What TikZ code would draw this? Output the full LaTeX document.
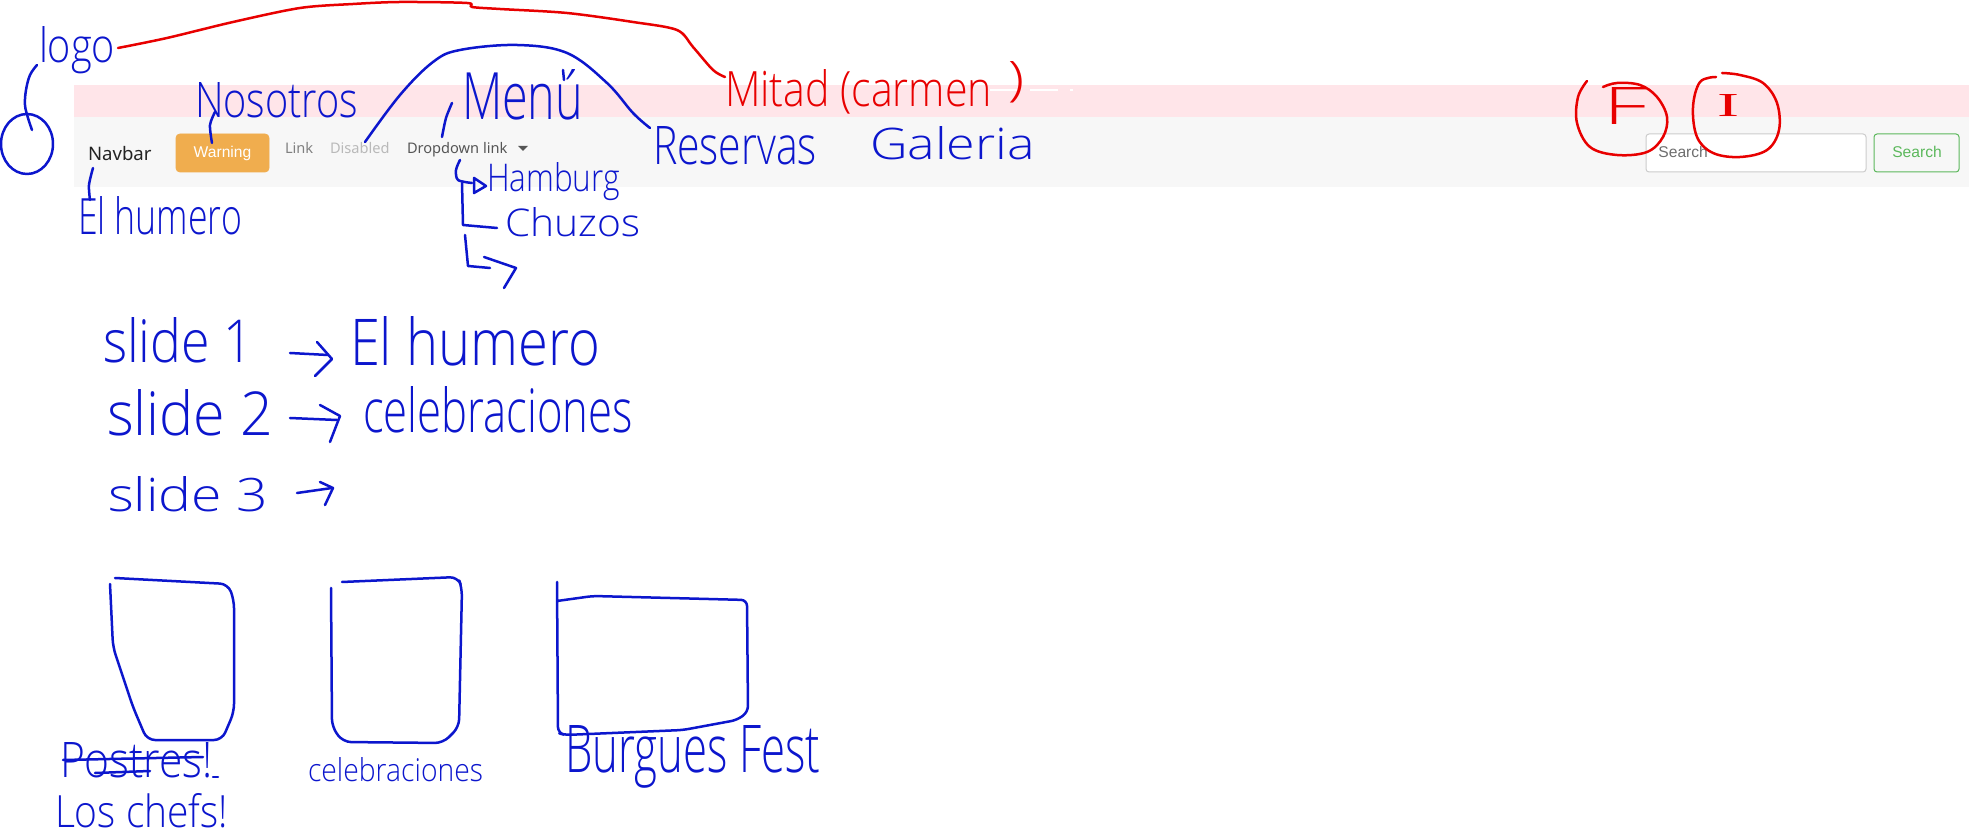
\documentclass[tikz,border=0pt]{standalone}
\usepackage{fontspec}
\usepackage{graphicx}
\IfFontExistsTF{Open Sans Light}{\newfontfamily\handfont{Open Sans Light}}{\newfontfamily\handfont{Open Sans}}
\newfontfamily\uifont{Noto Sans}
\newfontfamily\arialfont{Liberation Sans}
\newfontfamily\seriffont{Liberation Serif}
\definecolor{ink}{RGB}{12,22,205}
\definecolor{redink}{RGB}{232,0,0}
\definecolor{pinkband}{RGB}{255,229,233}
\definecolor{grayband}{RGB}{247,247,247}
\definecolor{warnfill}{RGB}{240,173,78}
\definecolor{okgreen}{RGB}{92,184,92}
\definecolor{inputborder}{RGB}{204,204,204}
\definecolor{brandgray}{RGB}{35,35,35}
\definecolor{linkgray}{RGB}{128,128,128}
\definecolor{disgray}{RGB}{185,185,185}
\definecolor{actgray}{RGB}{85,85,85}
\definecolor{phgray}{RGB}{110,110,110}
\newlength\pxu \setlength\pxu{0.5pt}
\newcommand\hw[3]{\resizebox{#1\pxu}{#2\pxu}{\handfont #3}}
\begin{document}
\begin{tikzpicture}[x=0.5pt,y=-0.5pt,
  pen/.style={draw=ink, line width=1.25pt, line cap=round, line join=round},
  redpen/.style={draw=redink, line width=1.25pt, line cap=round, line join=round},
  hand/.style={inner sep=0pt, outer sep=0pt, text=ink, anchor=base west},
  redhand/.style={hand, text=redink},
  ui/.style={inner sep=0pt, outer sep=0pt, anchor=base west, font=\uifont\fontsize{7.3pt}{9pt}\selectfont},
]
\useasboundingbox (0,0) rectangle (1969,838);
\fill[white] (0,0) rectangle (1969,838);
% navbar bands
\fill[pinkband] (74,85) rectangle (1969,117);
\fill[grayband] (74,117) rectangle (1969,187);
\draw[white, line width=0.9pt, dash pattern=on 14pt off 6pt] (990,90) -- (1073,90);

% navbar contents
\node[ui, font=\uifont\fontsize{9.3pt}{11pt}\selectfont, text=brandgray] (navbar) at (88,161) {Navbar};
\node[draw=warnfill, fill=warnfill, rounded corners=2pt, minimum width=46.5pt, minimum height=19pt, inner sep=0pt] (warning) at (222.5,153) {};
\node[inner sep=0pt, anchor=base, text=white, font=\arialfont\fontsize{7.8pt}{9pt}\selectfont] (warntext) at (222.5,158) {Warning};
\node[ui, text=linkgray] (link) at (285,154) {Link};
\node[ui, text=disgray] (disabled) at (330,154) {Disabled};
\node[ui, text=actgray] (dropdown) at (407,154) {Dropdown link};
\fill[actgray] (518,146) -- (528,146) -- (523,151) -- cycle;
\node[draw=inputborder, fill=white, rounded corners=1.5pt, line width=0.5pt, minimum width=110pt, minimum height=19pt, inner sep=0pt] (searchbox) at (1756,153) {};
\node[inner sep=0pt, anchor=base west, text=phgray, font=\arialfont\fontsize{7.8pt}{9pt}\selectfont] (placeholder) at (1658,158) {Search};
\node[draw=okgreen, rounded corners=1.5pt, line width=0.5pt, minimum width=42.5pt, minimum height=19pt, inner sep=0pt] (searchbtn) at (1916.5,153) {};
\node[inner sep=0pt, anchor=base, text=okgreen, font=\arialfont\fontsize{7.8pt}{9pt}\selectfont] (searchtext) at (1917,158) {Search};

% handwritten blue labels
\node[hand] (logo) at (39,63) {\hw{76}{36}{logo}};
\node[hand] (nosotros) at (195,118) {\hw{163}{35}{Nosotros}};
\node[hand] (menu) at (462,120) {\hw{121}{50}{Menú}};
\node[hand] (reservas) at (653,165) {\hw{164}{38}{Reservas}};
\node[hand] (galeria) at (870,160) {\hw{165}{33}{Galeria}};
\node[hand] (elhumero) at (78,235) {\hw{164}{38}{El humero}};
\node[hand] (hamburg) at (487,192) {\hw{133}{29}{Hamburg}};
\node[hand] (chuzos) at (505,237) {\hw{135}{29}{Chuzos}};
\node[hand] (slide1) at (103,363) {\hw{150}{45}{slide 1}};
\node[hand] (humero2) at (350,366) {\hw{250}{49}{El humero}};
\node[hand] (slide2) at (107,436) {\hw{166}{46}{slide 2}};
\node[hand] (celeb1) at (363,433) {\hw{270}{46}{celebraciones}};
\node[hand] (slide3) at (108,512) {\hw{160}{35}{slide 3}};
\node[hand] (postres) at (60,777) {\hw{153}{35}{Postres!}};
\node[hand] (loschefs) at (55,827) {\hw{173}{34}{Los chefs!}};
\node[hand] (celeb2) at (308,781) {\hw{175}{24}{celebraciones}};
\node[hand] (burgues) at (565,772) {\hw{255}{47}{Burgues Fest}};

% red labels
\node[redhand] (mitad) at (725,107) {\hw{267}{37}{Mitad (carmen}};
\node[redhand] (paren) at (1008,96) {\hw{16}{34}{)}};
\node[redhand] (fletter) at (1603,125) {\hw{44}{37}{F}};
\node[redhand] (iletter) at (1717,117) {\resizebox{22\pxu}{22\pxu}{\seriffont I}};

% blue strokes
\coordinate (logoend) at (37,65);
\coordinate (circtop) at (32,130);
\draw[pen] plot[smooth, tension=0.6] coordinates {(logoend) (30,75) (26,90) (25,105) (28,118) (circtop)};
\draw[pen] (27,144) ellipse [x radius=26, y radius=30];
\draw[pen] plot[smooth] coordinates {(212,143) (210,125) (215,112)};
\draw[pen] plot[smooth] coordinates {(93,168) (89,185) (90,200)};
\draw[pen] plot[smooth, tension=0.6] coordinates {(365,142) (400,95) (433,62) (460,50) (517,45) (567,53) (607,83) (633,113) (650,128)};
\draw[pen] plot[smooth] coordinates {(442,137) (446,118) (452,103)};
\draw[pen] (563,70) -- (564,80);
% dropdown items
\draw[pen] plot[smooth, tension=0.5] coordinates {(460,160) (456,170) (458,180) (472,183)};
\draw[pen] (474,178) -- (474,193) -- (486,186) -- cycle;
\draw[pen] (462,183) -- (463,225) -- (497,228);
\draw[pen] (465,235) -- (468,266) -- (490,268);
\draw[pen] (484,257) -- (516,268) -- (504,288);
% slide arrows
\draw[pen] (290,353) -- (328,355);
\draw[pen] (317,342) -- (332,359) -- (315,376);
\draw[pen] (290,418) -- (337,420);
\draw[pen] (320,405) -- (340,416) -- (330,442);
\draw[pen] (297,493) -- (332,488);
\draw[pen] (320,482) -- (333,488) -- (325,505);
% boxes
\draw[pen, rounded corners=4pt] (115,578) -- (228,584) -- (234,600) -- (234,712) -- (222,740) -- (147,740) -- (133,707) -- (113,647) -- (110,584);
\draw[pen, rounded corners=4pt] (342,582) -- (458,577) -- (462,588) -- (459,727) -- (443,743) -- (343,742) -- (332,727) -- (331,588);
\draw[pen, rounded corners=3pt] (557,582) -- (558,733) -- (565,735) -- (683,730) -- (737,720) -- (748,712) -- (747,600) -- (593,596) -- (557,601);
% strike-through of Postres
\draw[pen] (63,760) -- (203,757);
\draw[pen] (95,773) -- (150,771);
\draw[pen] (213,777) -- (218,777);

% red strokes
\coordinate (logotail) at (118,48);
\coordinate (mitadtip) at (725,77);
\draw[redpen] plot[smooth, tension=0.5] coordinates {(logotail) (167,38) (233,22) (300,8) (353,4) (400,2) (467,3) (472,7) (500,9) (567,13) (633,22) (677,30) (693,47) (713,70) (mitadtip)};
\draw[redpen] plot[smooth, tension=0.6] coordinates {(1587,81) (1578,97) (1577,123) (1590,147) (1617,155) (1647,152) (1663,137) (1667,117) (1657,97) (1640,85) (1617,83) (1603,87)};
\draw[redpen] plot[smooth, tension=0.6] coordinates {(1716,77) (1700,82) (1693,107) (1697,137) (1713,153) (1740,157) (1767,150) (1779,130) (1777,103) (1763,83) (1740,75) (1722,73)};
\end{tikzpicture}
\end{document}
